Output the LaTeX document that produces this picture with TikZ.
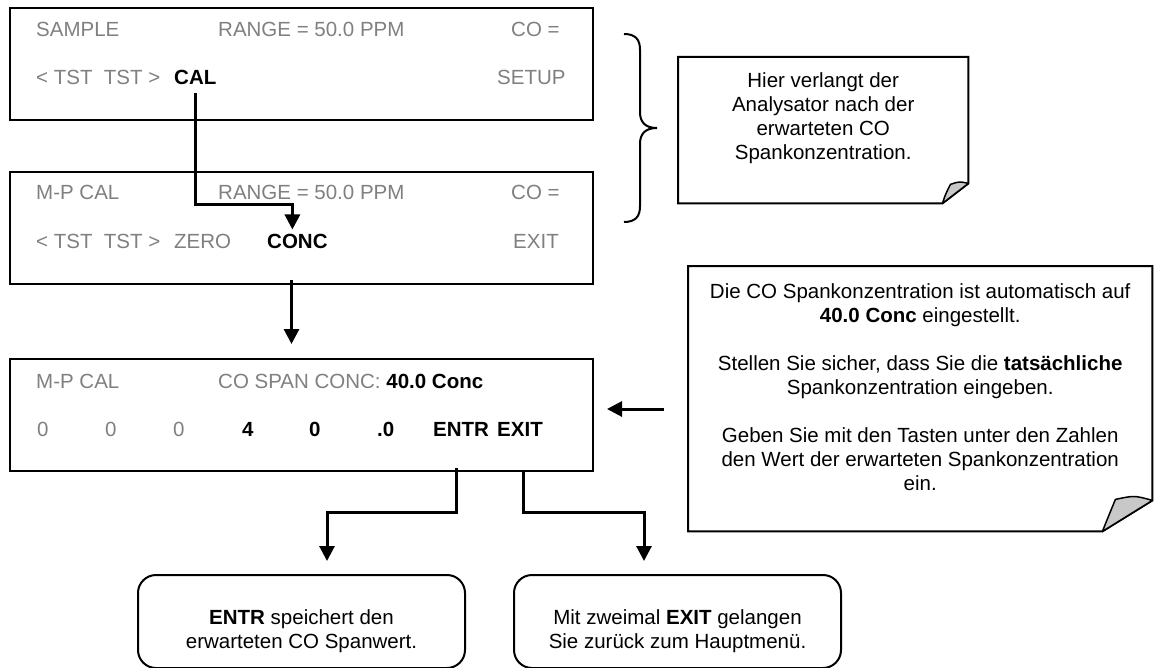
\documentclass[tikz,border=0pt]{standalone}
\usepackage{fontspec}
\setmainfont{Liberation Sans}
\usetikzlibrary{arrows.meta,calc}
\definecolor{lcdgray}{RGB}{128,128,128}
\definecolor{foldgray}{RGB}{200,200,200}
\begin{document}
\begin{tikzpicture}[x=1pt,y=-1pt,
  every node/.style={font=\fontsize{20.5pt}{24pt}\selectfont, inner sep=0pt},
  panel/.style={draw, line width=2pt, minimum width=583pt, minimum height=112pt, anchor=north west},
  lcd/.style={text=lcdgray, anchor=base west},
  key/.style={font=\fontsize{20.5pt}{24pt}\selectfont\bfseries, anchor=base west},
  note/.style={anchor=north west},
  notetext/.style={anchor=north, align=center},
  result/.style={draw, line width=2pt, rounded corners=18pt, minimum width=327pt, minimum height=93pt, anchor=north west},
  flow/.style={line width=3pt, -{Triangle[length=15pt,width=15pt]}},
]
\useasboundingbox[fill=white] (0,0) rectangle (1155,668);

% display panels
\node[panel] (b1) at (9,7) {};
\node[panel] (b2) at (9,171) {};
\node[panel] (b3) at (9,358) {};

% panel 1
\node[lcd] (s1) at (36,37) {SAMPLE};
\node[lcd] (r1) at (218,37) {RANGE = 50.0 PPM};
\node[lcd] (co1) at (511,37) {CO =};
\node[lcd] (tst1) at (36,85) {<~TST~~TST~>};
\node[key] (cal) at (174,85) {CAL};
\node[lcd] (setup) at (497,85) {SETUP};

% panel 2
\node[lcd] (mp2) at (36,200) {M-P CAL};
\node[lcd] (r2) at (218,200) {RANGE = 50.0 PPM};
\node[lcd] (co2) at (511,200) {CO =};
\node[lcd] (tst2) at (36,248) {<~TST~~TST~>};
\node[lcd] (zero) at (174,248) {ZERO};
\node[key] (conc) at (267,248) {CONC};
\node[lcd] (exit2) at (513,248) {EXIT};

% panel 3
\node[lcd] (mp3) at (36,388) {M-P CAL};
\node[lcd] (span) at (218,388) {CO SPAN CONC: \textcolor{black}{\bfseries 40.0 Conc}};
\node[lcd] (d1) at (37,436) {0};
\node[lcd] (d2) at (105,436) {0};
\node[lcd] (d3) at (173,436) {0};
\node[key] (d4) at (242,436) {4};
\node[key] (d5) at (309,436) {0};
\node[key] (d6) at (377,436) {.0};
\node[key] (entr) at (433,436) {ENTR};
\node[key] (exitb) at (497,436) {EXIT};

% brace over panels 1 and 2
\draw[line width=2pt] (624,34) .. controls (636,34) and (640,40) .. (640,50) -- (640,112)
  .. controls (640,122) and (645,128) .. (657,128)
  .. controls (645,128) and (640,134) .. (640,144) -- (640,206)
  .. controls (640,216) and (636,222) .. (624,222);

% note 1 with folded corner
\node[note, minimum width=290pt, minimum height=146pt] (c1) at (678,57) {};
\filldraw[fill=white, line width=2pt, line join=miter]
  (c1.north west) -- (c1.north east) -- ($(c1.south east)+(0,-20)$)
  -- ($(c1.south east)+(-26,0)$) -- (c1.south west) -- cycle;
\filldraw[fill=foldgray, line width=1.5pt, line join=round]
  ($(c1.south east)+(-26,0)$) .. controls ($(c1.south east)+(-23,-9)$) .. ($(c1.south east)+(-18,-19)$)
  .. controls ($(c1.south east)+(-9,-22)$) .. ($(c1.south east)+(0,-20)$) -- cycle;
\node[notetext] (t1) at ($(c1.north)+(0,15)$) {Hier verlangt der\\Analysator nach der\\erwarteten CO\\Spankonzentration.};

% note 2 with folded corner
\node[note, minimum width=464pt, minimum height=265pt] (c2) at (688,266) {};
\filldraw[fill=white, line width=2pt, line join=miter]
  (c2.north west) -- (c2.north east) -- ($(c2.south east)+(0,-31)$)
  -- ($(c2.south east)+(-50,0)$) -- (c2.south west) -- cycle;
\filldraw[fill=foldgray, line width=1.5pt, line join=round]
  ($(c2.south east)+(-50,0)$) .. controls ($(c2.south east)+(-44,-15)$) .. ($(c2.south east)+(-37,-32)$)
  .. controls ($(c2.south east)+(-18,-36)$) .. ($(c2.south east)+(0,-31)$) -- cycle;
\node[notetext] (t2) at ($(c2.north)+(0,17)$) {Die CO Spankonzentration ist automatisch auf\\\textbf{40.0 Conc} eingestellt.\\[24pt]Stellen Sie sicher, dass Sie die \textbf{tatsächliche}\\Spankonzentration eingeben.\\[24pt]Geben Sie mit den Tasten unter den Zahlen\\den Wert der erwarteten Spankonzentration\\ein.};

% result boxes
\node[result] (ek) at (137,574) {};
\node[notetext] (ekt) at ($(ek.north)+(0,35)$) {\textbf{ENTR} speichert den\\erwarteten CO Spanwert.};
\node[result] (xk) at (513,574) {};
\node[notetext] (xkt) at ($(xk.north)+(0,35)$) {Mit zweimal \textbf{EXIT} gelangen\\Sie zurück zum Hauptmenü.};

% connectors
\draw[flow] ($(cal.south)+(0,8)$) -- (cal.south |- 0,205) -| ($(conc.north)+(-5,-4)$);
\draw[flow] ($(b2.south)+(-10,-5)$) -- ($(b3.north)+(-10,-14)$);
\draw[flow] ($(entr.south |- b3.south)+(-5,-4)$) -- ++(0,44) -| ($(ek.north)+(25.5,-13)$);
\draw[flow] ($(exitb.south |- b3.south)+(4,0)$) -- ++(0,40) -| ($(xk.north)+(-33.5,-13)$);
\draw[flow] ($(c2.west |- 0,409)+(-24,0)$) -- ($(b3.east |- 0,409)+(13,0)$);
\end{tikzpicture}
\end{document}
